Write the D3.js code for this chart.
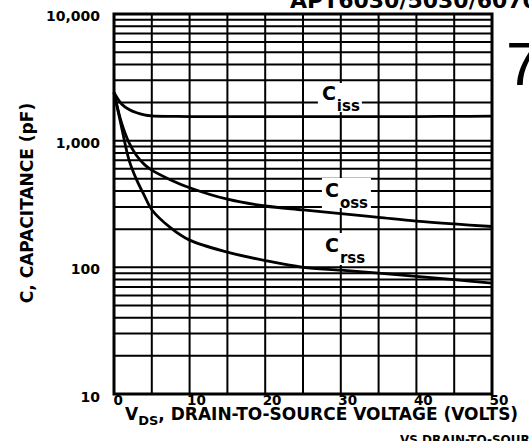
<!DOCTYPE html>
<html lang="en">
<head>
<meta charset="UTF-8">
<title>Capacitance vs Drain-to-Source Voltage</title>
<script src="https://d3js.org/d3.v7.min.js"></script>
<style>
  body { margin: 0; background: #fff; }
  text { font-family: "DejaVu Sans", sans-serif; font-weight: bold; fill: #000; }
</style>
</head>
<body>
<svg width="529" height="441"></svg>
<script>
    // Values
    const vds  = [0, 1, 2, 3, 4, 5, 7.5, 10, 15, 20, 25, 30, 35, 40, 45, 50];
    const ciss = [2400, 1950, 1760, 1660, 1600, 1570, 1555, 1550, 1550, 1550, 1550, 1550, 1550, 1550, 1555, 1560];
    const coss = [2400, 1380, 960, 760, 650, 585, 490, 425, 345, 305, 284, 265, 248, 232, 220, 210];
    const crss = [2400, 1280, 700, 490, 370, 285, 205, 164, 132, 113, 100, 95, 90, 85, 80, 75];

    const xTicks = [0, 10, 20, 30, 40, 50];
    const xGrid = [5, 10, 15, 20, 25, 30, 35, 40, 45];
    const yTicks = [10, 100, 1000, 10000];

    const svg = d3.select("svg");
    const x = d3.scaleLinear().domain([0, 50]).range([114, 492]);
    const y = d3.scaleLog().domain([10, 10000]).range([394, 14]);

    // grid
    const grid = svg.append("g").attr("stroke", "#000").attr("stroke-width", 2);
    grid.selectAll("line.h")
        .data(y.ticks().filter(d => d > 10 && d < 10000))
        .enter().append("line")
        .attr("x1", x(0)).attr("x2", x(50))
        .attr("y1", d => y(d)).attr("y2", d => y(d));
    grid.selectAll("line.v")
        .data(xGrid)
        .enter().append("line")
        .attr("x1", d => x(d)).attr("x2", d => x(d))
        .attr("y1", y(10000)).attr("y2", y(10));

    // curve labels sit in white boxes that hide the grid
    const labels = [
        { main: "C", sub: "iss", v: 27.5, base: 100, box: [-4, -17, 44, 29] },
        { main: "C", sub: "oss", v: 27.9, base: 197, box: [-3, -19, 49, 30] },
        { main: "C", sub: "rss", v: 27.9, base: 252, box: [-4, -19, 49, 32] }
    ];
    const lab = svg.append("g");
    labels.forEach(l => {
        const bx = x(l.v), by = l.base;
        lab.append("rect")
            .attr("x", bx + l.box[0]).attr("y", by + l.box[1])
            .attr("width", l.box[2]).attr("height", l.box[3])
            .attr("fill", "#fff");
        const t = lab.append("text").attr("x", bx).attr("y", by).style("font-size", "19px");
        t.append("tspan").text(l.main);
        t.append("tspan").attr("dy", 11).attr("dx", 1).style("font-size", "15px").text(l.sub);
    });

    // curves
    const line = d3.line().curve(d3.curveCatmullRom.alpha(0.5));
    [ciss, coss, crss].forEach(s => {
        svg.append("path")
            .attr("d", line(vds.map((v, i) => [x(v), y(s[i])])))
            .attr("fill", "none")
            .attr("stroke", "#000")
            .attr("stroke-width", 2.8);
    });

    // frame
    svg.append("rect")
        .attr("x", x(0)).attr("y", y(10000))
        .attr("width", x(50) - x(0)).attr("height", y(10) - y(10000))
        .attr("fill", "none").attr("stroke", "#000").attr("stroke-width", 3);

    // axes
    const yAxis = svg.append("g")
        .attr("transform", `translate(${x(0)},0)`)
        .call(d3.axisLeft(y).tickValues(yTicks).tickFormat(d3.format(",")).tickSize(0).tickPadding(14));
    yAxis.select(".domain").remove();
    yAxis.selectAll("text").style("font-size", "14px").attr("font-family", null)
        .attr("y", d => d === 10 ? 3 : 2);

    const xAxis = svg.append("g")
        .attr("transform", `translate(0,${y(10)})`)
        .call(d3.axisBottom(x).tickValues(xTicks).tickSize(0).tickPadding(1));
    xAxis.select(".domain").remove();
    xAxis.selectAll("text").style("font-size", "13.5px").attr("font-family", null)
        .attr("text-anchor", "start").attr("dx", d => d === 0 ? -1 : -3);

    // axis titles
    const xt = svg.append("text").attr("x", 125).attr("y", 420).style("font-size", "17px");
    xt.append("tspan").text("V");
    xt.append("tspan").attr("dy", 5).style("font-size", "13px").text("DS");
    xt.append("tspan").attr("dy", -5).text(", DRAIN-TO-SOURCE VOLTAGE (VOLTS)");

    svg.append("text")
        .attr("transform", "translate(33,203) rotate(-90)")
        .attr("text-anchor", "middle")
        .style("font-size", "17px")
        .text("C, CAPACITANCE (pF)");

    // page furniture cut by the crop
    svg.append("text").attr("x", 290).attr("y", 8).style("font-size", "22px")
        .text("APT6030/5030/6070");
    svg.append("text").attr("x", 400).attr("y", 444).style("font-size", "12px")
        .text("VS DRAIN-TO-SOURCE VOLTAGE");
    svg.append("text").attr("x", 506).attr("y", 85)
        .style("font-family", "Liberation Sans").style("font-weight", "normal").style("font-size", "62px")
        .text("7");
</script>
</body>
</html>
